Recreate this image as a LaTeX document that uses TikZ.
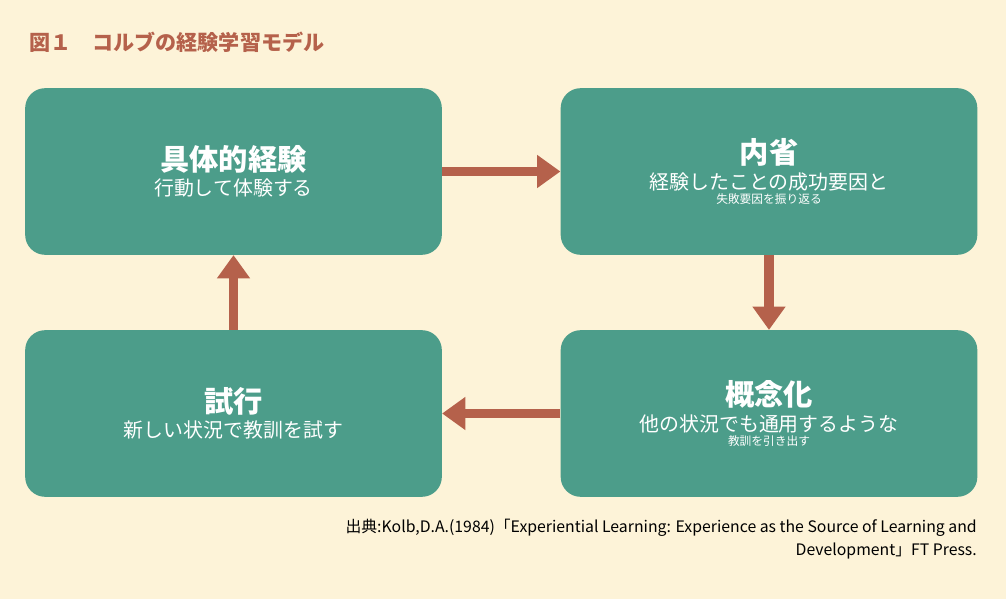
\documentclass[tikz,border=0pt]{standalone}
\usepackage{fontspec}
\setmainfont{Noto Sans CJK JP}
\usetikzlibrary{arrows.meta}
\definecolor{bgcol}{HTML}{FDF3D8}
\definecolor{boxcol}{HTML}{4C9D8A}
\definecolor{arrcol}{HTML}{B5614B}
\tikzset{
  stagebox/.style={fill=boxcol,rounded corners=0.6cm,minimum width=12.5cm,minimum height=5cm,
    text=white,align=center,inner sep=0pt},
  flow/.style={arrcol,line width=8.5pt,-{Triangle[width=0.95cm,length=0.7cm]}}
}
\newcommand{\stagehead}{\fontsize{25}{30}\selectfont\bfseries}
\newcommand{\stagetext}{\fontsize{17}{25}\selectfont\mdseries}
\begin{document}
\begin{tikzpicture}[x=0.03cm,y=-0.03cm]
\fill[bgcol] (0,0) rectangle (1006,599);
\useasboundingbox (0,0) rectangle (1006,599);

\node[anchor=west,text=arrcol,font=\fontsize{18}{20}\selectfont\bfseries] (title) at (25,42) {図１　コルブの経験学習モデル};

\node[stagebox] (exp) at (233.5,171.5) {\stagehead 具体的経験\\[4pt]\stagetext 行動して体験する};
\node[stagebox] (ref) at (769,171.5) {\stagehead 内省\\[4pt]\stagetext 経験したことの成功要因と\\失敗要因を振り返る};
\node[stagebox] (con) at (769,413.5) {\stagehead 概念化\\[4pt]\stagetext 他の状況でも通用するような\\教訓を引き出す};
\node[stagebox] (tri) at (233.5,413.5) {\stagehead 試行\\[4pt]\stagetext 新しい状況で教訓を試す};

% cycle
\draw[flow] (exp.east) -- (ref.west);
\draw[flow] (ref.south) -- (con.north);
\draw[flow] (con.west) -- (tri.east);
\draw[flow] (tri.north) -- (exp.south);

\node[anchor=north east,align=right,inner sep=0pt,font=\fontsize{13.5}{19.5}\selectfont] (src) at (977,519)
  {出典:Kolb,D.A.(1984)「Experiential Learning: Experience as the Source of Learning and\\Development」FT Press.};
\end{tikzpicture}
\end{document}
